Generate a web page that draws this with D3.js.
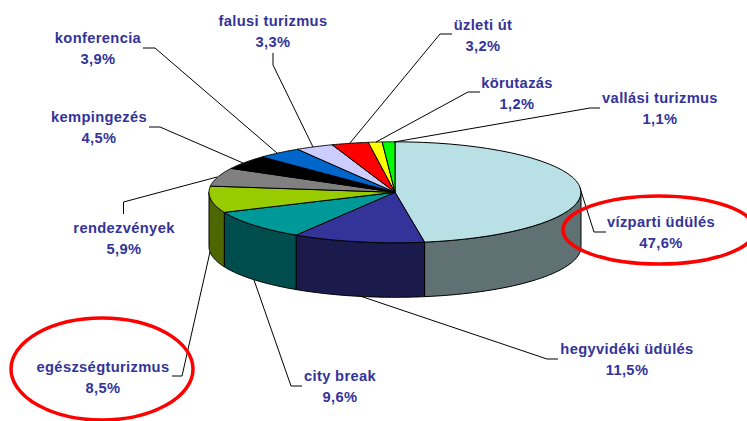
<!DOCTYPE html>
<html><head><meta charset="utf-8">
<script src="https://cdn.jsdelivr.net/npm/d3@7"></script>
<style>html,body{margin:0;padding:0;background:#fff}svg{display:block}
text{font-family:"Liberation Sans",Arial,sans-serif;font-weight:bold;font-size:14.7px;fill:#333399;text-anchor:middle;letter-spacing:.35px}</style>
</head><body><svg id="c" width="747" height="421"></svg>
<script>
const categories=["vízparti üdülés","hegyvidéki üdülés","city break","egészségturizmus","rendezvények","kempingezés","konferencia","falusi turizmus","üzleti út","körutazás","vallási turizmus"];
const values=[47.6,11.5,9.6,8.5,5.9,4.5,3.9,3.3,3.2,1.2,1.1];
const valueLabels=["47,6%","11,5%","9,6%","8,5%","5,9%","4,5%","3,9%","3,3%","3,2%","1,2%","1,1%"];
const topColors=["#b9e0e4","#333399","#009999","#99cc00","#808080","#000000","#0066cc","#ccccff","#ff0000","#ffff00","#00ff00"];
const wallColors=["#5f7173","#1a1a4d","#004d4d","#4d6600","#404040","#000000","#003366","#666680","#800000","#808000","#008000"];
const labelCenters=[[661,227],[627,354],[340,381],[103,372],[124,233],[99,122],[98,43],[273,26],[483,30],[517,88],[660,103]];
const leaders=[
 [[606,232],[594,232],[580,188]],
 [[558,359],[547,359],[360,296]],
 [[302,386],[291,386],[254,280]],
 [[172,376],[182,376],[210,252]],
 [[123.5,214],[123.5,202],[217,177]],
 [[149,127],[160,127],[243,163]],
 [[143,48],[155,48],[277,153]],
 [[273,53],[273,65],[313,147]],
 [[452,34],[440,34],[350,143]],
 [[480,92],[468,92],[376,142]],
 [[600,108],[590,108],[394,142]]];
const rings=[[659,230,96,34],[102,369,91,51]];

const cx=395,cy=192.3,rx=186,ry=50.5,depth=54.5;
const svg=d3.select("#c");
const pie=d3.pie().sort(null).value(d=>d)(values);
const px=a=>cx+rx*Math.sin(a), py=a=>cy-ry*Math.cos(a);
const line=d3.line();
const arcPts=(a0,a1,dy=0)=>d3.range(0,41).map(i=>{const a=a0+(a1-a0)*i/40;return [px(a),py(a)+dy];});
const layer=svg.append("g");
pie.forEach((s,i)=>{
  const a0=Math.max(s.startAngle,Math.PI/2),a1=Math.min(s.endAngle,3*Math.PI/2);
  if(a1<=a0)return;
  const pts=arcPts(a0,a1).concat(arcPts(a0,a1,depth).reverse());
  layer.append("path").attr("d",line(pts)+"Z").attr("fill",wallColors[i]).attr("stroke","#000").attr("stroke-width",1).attr("stroke-linejoin","round");
});
svg.append("g").selectAll("path").data(leaders).join("path").attr("d",d=>line(d)).attr("fill","none").attr("stroke","#000").attr("stroke-width",1);
pie.forEach((s,i)=>{
  const pts=[[cx,cy]].concat(arcPts(s.startAngle,s.endAngle));
  layer.append("path").attr("d",line(pts)+"Z").attr("fill",topColors[i]).attr("stroke","#000").attr("stroke-width",1).attr("stroke-linejoin","round");
});
const t=svg.append("g").selectAll("text").data(categories).join("text").attr("x",(d,i)=>labelCenters[i][0]).attr("y",(d,i)=>labelCenters[i][1]);
t.append("tspan").text(d=>d);
t.append("tspan").attr("x",(d,i)=>labelCenters[i][0]).attr("dy",20.5).text((d,i)=>valueLabels[i]);
svg.append("g").selectAll("ellipse").data(rings).join("ellipse").attr("cx",d=>d[0]).attr("cy",d=>d[1]).attr("rx",d=>d[2]).attr("ry",d=>d[3]).attr("fill","none").attr("stroke","#ff0000").attr("stroke-width",3.5);
</script></body></html>
